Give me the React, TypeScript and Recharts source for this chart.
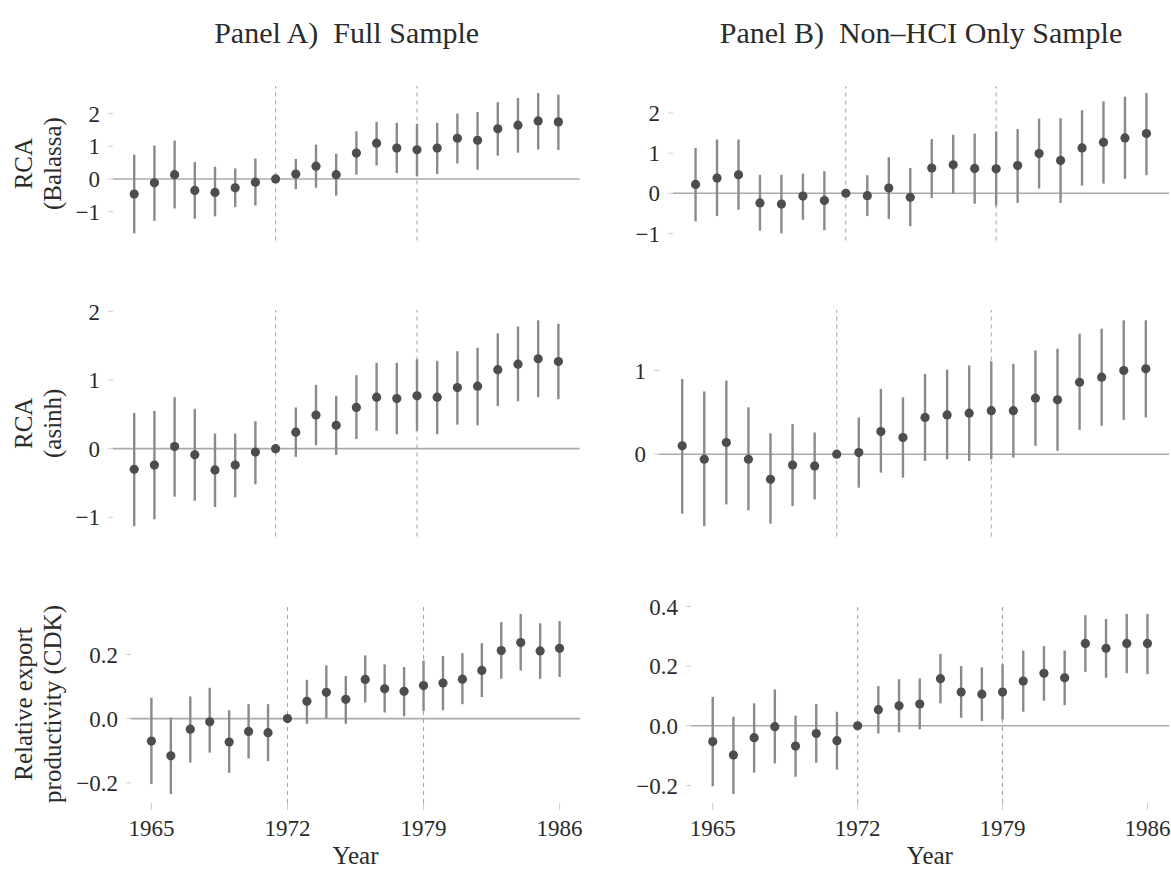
import { ErrorBar, ReferenceLine, Scatter, ScatterChart, XAxis, YAxis } from 'recharts';

const YEARS = [
  1965, 1966, 1967, 1968, 1969, 1970, 1971, 1972, 1973, 1974, 1975,
  1976, 1977, 1978, 1979, 1980, 1981, 1982, 1983, 1984, 1985, 1986,
];
const X_TICKS = [1965, 1972, 1979, 1986];
const PERIOD_LINES = [1972, 1979];

// RCA (Balassa)
const BALASSA_FULL_EST = [-0.46, -0.12, 0.13, -0.35, -0.41, -0.27, -0.1, 0, 0.15, 0.39, 0.13, 0.79, 1.09, 0.94, 0.89, 0.94, 1.24, 1.18, 1.53, 1.64, 1.77, 1.74];
const BALASSA_FULL_LO = [-1.66, -1.28, -0.9, -1.21, -1.14, -0.86, -0.81, 0, -0.31, -0.27, -0.51, 0.13, 0.41, 0.18, 0.08, 0.15, 0.47, 0.28, 0.71, 0.8, 0.9, 0.88];
const BALASSA_FULL_HI = [0.74, 1.02, 1.17, 0.51, 0.37, 0.32, 0.62, 0, 0.61, 1.05, 0.77, 1.45, 1.74, 1.71, 1.68, 1.71, 1.99, 2.04, 2.34, 2.47, 2.62, 2.57];

const BALASSA_NONHCI_EST = [0.22, 0.38, 0.46, -0.24, -0.27, -0.07, -0.18, 0, -0.06, 0.13, -0.1, 0.63, 0.71, 0.62, 0.61, 0.69, 0.99, 0.82, 1.13, 1.27, 1.38, 1.49];
const BALASSA_NONHCI_LO = [-0.7, -0.57, -0.41, -0.93, -1.0, -0.66, -0.92, 0, -0.57, -0.64, -0.82, -0.12, -0.01, -0.26, -0.31, -0.24, 0.12, -0.24, 0.19, 0.24, 0.36, 0.45];
const BALASSA_NONHCI_HI = [1.13, 1.34, 1.34, 0.46, 0.46, 0.49, 0.55, 0, 0.45, 0.9, 0.63, 1.35, 1.46, 1.49, 1.54, 1.6, 1.86, 1.87, 2.07, 2.29, 2.41, 2.5];

// RCA (asinh)
const ASINH_FULL_EST = [-0.3, -0.24, 0.03, -0.09, -0.31, -0.24, -0.05, 0, 0.24, 0.49, 0.34, 0.6, 0.75, 0.73, 0.77, 0.75, 0.89, 0.91, 1.15, 1.23, 1.31, 1.27];
const ASINH_FULL_LO = [-1.13, -1.03, -0.7, -0.76, -0.85, -0.71, -0.52, 0, -0.12, 0.05, -0.09, 0.14, 0.26, 0.21, 0.26, 0.21, 0.35, 0.34, 0.62, 0.69, 0.75, 0.72];
const ASINH_FULL_HI = [0.52, 0.55, 0.75, 0.58, 0.22, 0.22, 0.4, 0, 0.6, 0.93, 0.77, 1.07, 1.25, 1.25, 1.3, 1.28, 1.42, 1.47, 1.68, 1.78, 1.87, 1.82];

const ASINH_NONHCI_EST = [0.1, -0.06, 0.14, -0.06, -0.3, -0.13, -0.14, 0, 0.02, 0.27, 0.2, 0.44, 0.47, 0.49, 0.52, 0.52, 0.67, 0.65, 0.86, 0.92, 1.0, 1.02];
const ASINH_NONHCI_LO = [-0.71, -0.86, -0.6, -0.67, -0.83, -0.62, -0.54, 0, -0.4, -0.22, -0.28, -0.08, -0.06, -0.08, -0.06, -0.04, 0.1, 0.04, 0.29, 0.34, 0.41, 0.44];
const ASINH_NONHCI_HI = [0.9, 0.75, 0.88, 0.56, 0.25, 0.36, 0.26, 0, 0.44, 0.78, 0.68, 0.96, 1.01, 1.06, 1.11, 1.08, 1.24, 1.26, 1.44, 1.5, 1.6, 1.6];

// Relative export productivity (CDK)
const CDK_FULL_EST = [-0.07, -0.116, -0.033, -0.01, -0.073, -0.04, -0.044, 0, 0.054, 0.082, 0.06, 0.122, 0.093, 0.085, 0.103, 0.111, 0.123, 0.15, 0.212, 0.237, 0.211, 0.219];
const CDK_FULL_LO = [-0.204, -0.235, -0.137, -0.106, -0.169, -0.124, -0.133, 0, -0.016, 0.0, -0.016, 0.05, 0.019, 0.007, 0.024, 0.026, 0.045, 0.067, 0.124, 0.15, 0.124, 0.13];
const CDK_FULL_HI = [0.065, 0.003, 0.069, 0.096, 0.026, 0.045, 0.045, 0, 0.121, 0.166, 0.133, 0.197, 0.169, 0.161, 0.181, 0.195, 0.204, 0.235, 0.301, 0.326, 0.297, 0.304];

const CDK_NONHCI_EST = [-0.053, -0.098, -0.04, -0.003, -0.068, -0.026, -0.05, 0, 0.054, 0.067, 0.073, 0.158, 0.113, 0.106, 0.113, 0.15, 0.176, 0.161, 0.276, 0.26, 0.276, 0.276];
const CDK_NONHCI_LO = [-0.203, -0.229, -0.157, -0.126, -0.171, -0.124, -0.147, 0, -0.026, -0.022, -0.012, 0.075, 0.027, 0.016, 0.021, 0.047, 0.084, 0.069, 0.181, 0.161, 0.176, 0.173];
const CDK_NONHCI_HI = [0.097, 0.03, 0.075, 0.122, 0.034, 0.073, 0.047, 0, 0.133, 0.156, 0.159, 0.241, 0.2, 0.196, 0.206, 0.252, 0.267, 0.252, 0.371, 0.358, 0.375, 0.375];

const FONT = "'Liberation Serif', 'Times New Roman', serif";
const TEXT = '#2b2b2b';
const POINT = '#4d4d4d';
const WHISKER = '#8a8a8a';
const ZERO_LINE = '#aaaaaa';
const DASH_LINE = '#a6a6a6';
const TICK_LINE = '#cccccc';

const X_DOMAIN: [number, number] = [1963.95, 1987.05];
const Y_AXIS_W = 60;
const PAD_TOP = 14;
const PAD_BOTTOM = 14;
const PAD_RIGHT = 14;
const X_AXIS_H = 66;

interface PanelProps {
  plotLeft: number;
  plotTop: number;
  plotRight: number;
  plotBottom: number;
  est: number[];
  lo: number[];
  hi: number[];
  yDomain: [number, number];
  yTicks: number[];
  decimals: number;
  showX?: boolean;
}

function buildRows(est: number[], lo: number[], hi: number[]) {
  return YEARS.map((year, i) => ({
    year,
    est: est[i],
    err: [est[i] - lo[i], hi[i] - est[i]],
  }));
}

function formatTick(decimals: number) {
  return (v: number) => (v < -1e-9 ? '\u2212' : '') + Math.abs(v).toFixed(decimals);
}

function Dot(props: any) {
  const { cx, cy } = props;
  if (cx == null || cy == null) return null;
  return <circle cx={cx} cy={cy} r={4.6} fill={POINT} />;
}

function EventPanel({
  plotLeft,
  plotTop,
  plotRight,
  plotBottom,
  est,
  lo,
  hi,
  yDomain,
  yTicks,
  decimals,
  showX = false,
}: PanelProps) {
  const rows = buildRows(est, lo, hi);
  const xH = showX ? X_AXIS_H : 0;
  const padBottom = showX ? 0 : PAD_BOTTOM;
  const width = Y_AXIS_W + (plotRight - plotLeft) + PAD_RIGHT;
  const height = PAD_TOP + (plotBottom - plotTop) + xH + padBottom;

  return (
    <div style={{ position: 'absolute', left: plotLeft - Y_AXIS_W, top: plotTop - PAD_TOP }}>
      <ScatterChart
        width={width}
        height={height}
        margin={{ top: PAD_TOP, right: PAD_RIGHT, bottom: padBottom, left: 0 }}
      >
        <XAxis
          type="number"
          dataKey="year"
          domain={X_DOMAIN}
          ticks={X_TICKS}
          interval={0}
          hide={!showX}
          height={xH}
          axisLine={false}
          tickLine={{ stroke: TICK_LINE, strokeWidth: 1 }}
          tickSize={7}
          tickMargin={10}
          tick={{ fontFamily: FONT, fontSize: 23, fill: TEXT }}
          allowDataOverflow
        />
        <YAxis
          type="number"
          dataKey="est"
          width={Y_AXIS_W}
          domain={yDomain}
          ticks={yTicks}
          interval={0}
          axisLine={false}
          tickLine={{ stroke: TICK_LINE, strokeWidth: 1 }}
          tickSize={5}
          tickMargin={8}
          tickFormatter={formatTick(decimals)}
          tick={{ fontFamily: FONT, fontSize: 23, fill: TEXT }}
          allowDataOverflow
        />
        <ReferenceLine y={0} stroke={ZERO_LINE} strokeWidth={1.6} />
        {PERIOD_LINES.map((yr) => (
          <ReferenceLine key={yr} x={yr} stroke={DASH_LINE} strokeWidth={1.1} strokeDasharray="4 4" />
        ))}
        <Scatter data={rows} dataKey="est" shape={Dot} isAnimationActive={false}>
          <ErrorBar
            dataKey="err"
            direction="y"
            width={0}
            stroke={WHISKER}
            strokeWidth={2.4}
            isAnimationActive={false}
          />
        </Scatter>
      </ScatterChart>
    </div>
  );
}

function YTitle({ lines, cy }: { lines: string[]; cy: number }) {
  const baselines = [32, 61];
  return (
    <>
      {lines.map((line, i) => (
        <text
          key={line}
          transform={`translate(${baselines[i]}, ${cy}) rotate(-90)`}
          textAnchor="middle"
          fontFamily={FONT}
          fontSize={25}
          fill={TEXT}
        >
          {line}
        </text>
      ))}
    </>
  );
}

export default function App() {
  return (
    <div
      style={{
        position: 'absolute',
        left: 0,
        top: 0,
        width: 1171,
        height: 869,
        background: '#ffffff',
        overflow: 'hidden',
      }}
    >
      <EventPanel
        plotLeft={113.4}
        plotTop={86.4}
        plotRight={580}
        plotBottom={240.8}
        est={BALASSA_FULL_EST}
        lo={BALASSA_FULL_LO}
        hi={BALASSA_FULL_HI}
        yDomain={[-1.874, 2.834]}
        yTicks={[-1, 0, 1, 2]}
        decimals={0}
      />
      <EventPanel
        plotLeft={673}
        plotTop={86.4}
        plotRight={1169}
        plotBottom={240.8}
        est={BALASSA_NONHCI_EST}
        lo={BALASSA_NONHCI_LO}
        hi={BALASSA_NONHCI_HI}
        yDomain={[-1.175, 2.675]}
        yTicks={[-1, 0, 1, 2]}
        decimals={0}
      />
      <EventPanel
        plotLeft={113.4}
        plotTop={310}
        plotRight={580}
        plotBottom={536.5}
        est={ASINH_FULL_EST}
        lo={ASINH_FULL_LO}
        hi={ASINH_FULL_HI}
        yDomain={[-1.28, 2.02]}
        yTicks={[-1, 0, 1, 2]}
        decimals={0}
      />
      <EventPanel
        plotLeft={659}
        plotTop={310}
        plotRight={1169}
        plotBottom={536.5}
        est={ASINH_NONHCI_EST}
        lo={ASINH_NONHCI_LO}
        hi={ASINH_NONHCI_HI}
        yDomain={[-0.983, 1.723]}
        yTicks={[0, 1]}
        decimals={0}
      />
      <EventPanel
        plotLeft={131}
        plotTop={605}
        plotRight={580}
        plotBottom={803}
        est={CDK_FULL_EST}
        lo={CDK_FULL_LO}
        hi={CDK_FULL_HI}
        yDomain={[-0.263, 0.354]}
        yTicks={[-0.2, 0, 0.2]}
        decimals={1}
        showX
      />
      <EventPanel
        plotLeft={690.8}
        plotTop={605}
        plotRight={1169}
        plotBottom={803}
        est={CDK_NONHCI_EST}
        lo={CDK_NONHCI_LO}
        hi={CDK_NONHCI_HI}
        yDomain={[-0.259, 0.405]}
        yTicks={[-0.2, 0, 0.2, 0.4]}
        decimals={1}
        showX
      />

      <svg
        width={1171}
        height={869}
        style={{ position: 'absolute', left: 0, top: 0, pointerEvents: 'none' }}
      >
        <text
          x={346.7}
          y={43}
          textAnchor="middle"
          fontFamily={FONT}
          fontSize={30}
          fill={TEXT}
          style={{ whiteSpace: 'pre' }}
        >
          {'Panel A)  Full Sample'}
        </text>
        <text
          x={921}
          y={43}
          textAnchor="middle"
          fontFamily={FONT}
          fontSize={30}
          fill={TEXT}
          style={{ whiteSpace: 'pre' }}
        >
          {'Panel B)  Non\u2013HCI Only Sample'}
        </text>
        <YTitle lines={['RCA', '(Balassa)']} cy={163.6} />
        <YTitle lines={['RCA', '(asinh)']} cy={423.3} />
        <YTitle lines={['Relative export', 'productivity (CDK)']} cy={704} />
        <text x={355.5} y={864} textAnchor="middle" fontFamily={FONT} fontSize={25} fill={TEXT}>
          Year
        </text>
        <text x={929.9} y={864} textAnchor="middle" fontFamily={FONT} fontSize={25} fill={TEXT}>
          Year
        </text>
      </svg>
    </div>
  );
}
